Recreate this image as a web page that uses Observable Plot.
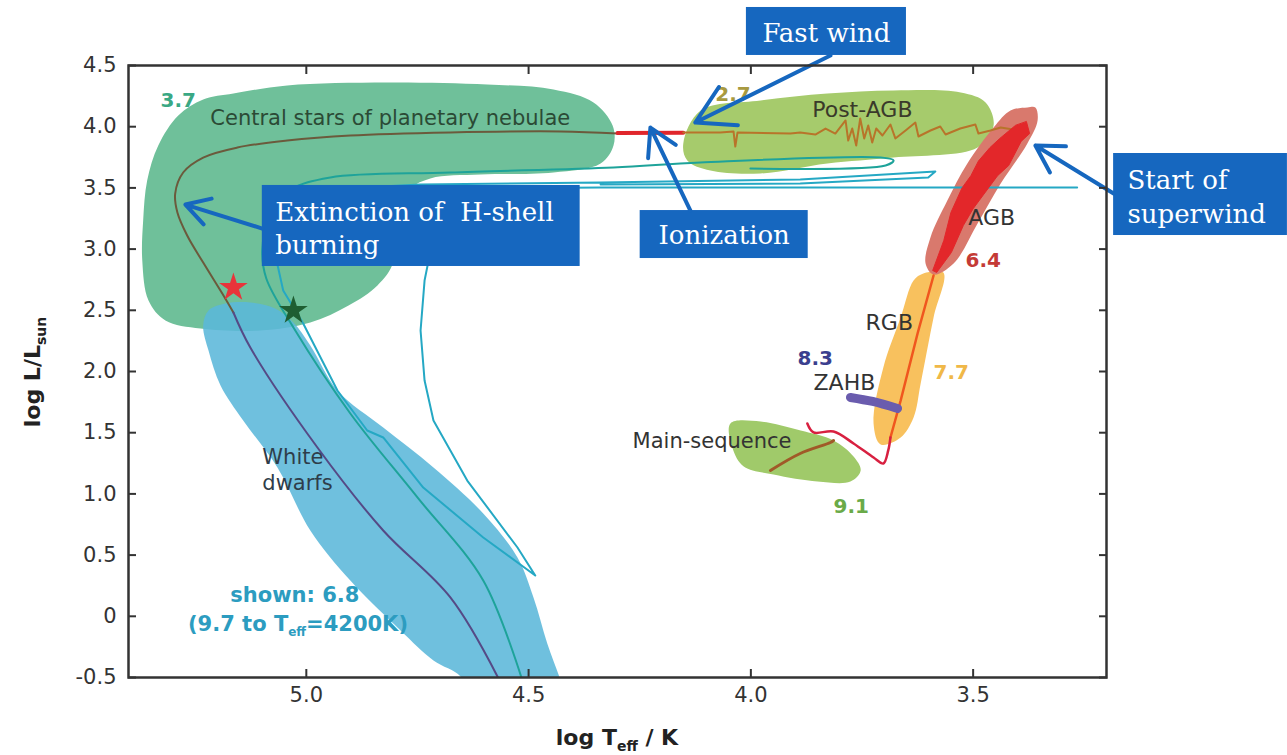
<!DOCTYPE html>
<html><head><meta charset="utf-8">
<script src="https://cdn.jsdelivr.net/npm/d3@7"></script>
<script src="https://cdn.jsdelivr.net/npm/@observablehq/plot@0.6"></script>
<style>
html,body{margin:0;padding:0;background:#fff;}
#chart{width:1287px;height:755px;}
</style></head><body><div id="chart"></div>
<script>
// ---- axes ----
const xTicks = [5.0, 4.5, 4.0, 3.5];
const yTicks = [-0.5, 0, 0.5, 1.0, 1.5, 2.0, 2.5, 3.0, 3.5, 4.0, 4.5];
const xDomain = [5.4, 3.2];
const yDomain = [-0.5, 4.5];

// ---- regions [log Teff, log L] ----
const cspnRegion = [[5.164,4.271],[5.043,4.337],[4.818,4.361],[4.593,4.345],[4.444,4.304],[4.354,4.198],[4.311,4.010],[4.309,3.846],[4.338,3.699],[4.444,3.626],[4.608,3.609],[4.721,3.577],[4.777,3.462],[4.811,3.152],[4.805,2.890],[4.840,2.703],[4.905,2.539],[4.991,2.400],[5.103,2.335],[5.238,2.351],[5.317,2.417],[5.355,2.580],[5.369,2.907],[5.367,3.234],[5.358,3.560],[5.333,3.846],[5.288,4.091],[5.232,4.222]];
const wdRegion = [[5.232,2.376],[5.220,2.498],[5.182,2.555],[5.126,2.564],[5.070,2.515],[5.029,2.400],[4.991,2.212],[4.930,1.845],[4.827,1.542],[4.714,1.216],[4.602,0.840],[4.525,0.480],[4.489,0.154],[4.458,-0.222],[4.428,-0.525],[4.415,-0.69],[4.631,-0.69],[4.653,-0.492],[4.714,-0.361],[4.788,-0.116],[4.901,0.292],[4.991,0.701],[5.065,1.216],[5.142,1.600],[5.193,1.886],[5.220,2.171]];
const postAgbRegion = [[4.152,3.863],[4.113,4.132],[3.978,4.214],[3.828,4.271],[3.679,4.296],[3.528,4.279],[3.472,4.198],[3.454,4.010],[3.490,3.830],[3.679,3.748],[3.828,3.699],[3.978,3.618],[4.091,3.642],[4.143,3.724]];
const agbRegion = [[3.378,4.157],[3.416,4.132],[3.454,3.993],[3.513,3.699],[3.558,3.397],[3.596,3.095],[3.607,2.882],[3.589,2.792],[3.544,2.882],[3.490,3.209],[3.438,3.536],[3.378,3.863],[3.355,4.051],[3.360,4.157]];
const agbCore = [[3.380,4.040],[3.373,3.944],[3.392,3.880],[3.420,3.683],[3.445,3.600],[3.478,3.438],[3.500,3.330],[3.522,3.193],[3.549,2.972],[3.582,2.809],[3.591,2.825],[3.566,3.070],[3.550,3.299],[3.525,3.500],[3.505,3.600],[3.488,3.720],[3.462,3.830],[3.440,3.904],[3.405,4.010]];
const rgbRegion = [[3.612,2.801],[3.567,2.809],[3.589,2.441],[3.618,1.902],[3.634,1.624],[3.663,1.461],[3.708,1.404],[3.724,1.575],[3.702,2.033],[3.663,2.441],[3.634,2.743]];
const msRegion = [[4.046,1.575],[3.978,1.591],[3.888,1.518],[3.814,1.436],[3.769,1.305],[3.753,1.191],[3.776,1.101],[3.850,1.101],[3.949,1.158],[4.016,1.224],[4.041,1.371]];

// ---- tracks ----
const cspnTrack = [[4.300,3.944],[4.428,3.961],[4.676,3.953],[4.901,3.928],[5.043,3.887],[5.155,3.830],[5.232,3.748],[5.277,3.626],[5.295,3.454],[5.290,3.299],[5.268,3.111],[5.232,2.890],[5.189,2.637],[5.164,2.482]];
const wdTrack = [[5.164,2.482],[5.126,2.196],[4.975,1.379],[4.827,0.701],[4.676,0.154],[4.570,-0.492],[4.563,-0.55]];
const ionTrack = [[4.300,3.948],[4.152,3.950]];
const postAgbTrack = [[4.152,3.953],[4.069,3.953],[4.039,3.961],[4.035,3.838],[4.030,3.953],[3.911,3.944],[3.889,3.953],[3.855,3.936],[3.832,3.985],[3.810,3.944],[3.787,4.051],[3.781,3.887],[3.772,3.985],[3.763,3.846],[3.754,4.067],[3.745,3.904],[3.736,4.010],[3.727,3.871],[3.718,3.985],[3.704,3.928],[3.686,4.018],[3.675,3.904],[3.652,3.969],[3.630,4.034],[3.623,3.920],[3.596,3.969],[3.574,4.002],[3.562,3.936],[3.529,3.985],[3.495,4.018],[3.488,3.944],[3.461,3.969],[3.438,3.993],[3.394,3.969]];
const tealTrackA = [[4.001,3.658],[3.697,3.683],[3.679,3.724],[3.708,3.748],[4.114,3.707],[4.309,3.667],[4.676,3.626],[4.946,3.585],[5.036,3.479],[5.085,3.234],[5.099,2.989],[5.090,2.760],[5.029,2.359],[4.901,1.657],[4.750,0.971],[4.602,0.292],[4.514,-0.525]];
const tealTrackB = [[3.266,3.503],[3.889,3.503],[4.338,3.503],[4.665,3.495],[4.699,3.397],[4.716,3.070],[4.734,2.743],[4.743,2.335],[4.734,1.926],[4.714,1.600],[4.638,1.109],[4.525,0.562],[4.485,0.333],[4.602,0.644],[4.737,1.052],[4.827,1.461],[4.863,1.518],[4.930,1.845],[5.007,2.392],[5.052,2.662],[5.072,2.989],[5.054,3.315],[5.002,3.479],[4.743,3.528],[4.338,3.544],[3.889,3.569],[3.585,3.634],[3.601,3.585],[3.889,3.536],[4.338,3.528]];
const preMsTrack = [[3.873,1.575],[3.859,1.502],[3.814,1.510],[3.769,1.412],[3.724,1.297],[3.702,1.248],[3.691,1.355],[3.686,1.461]];
const rgbTrack = [[3.686,1.461],[3.663,1.763],[3.625,2.310],[3.589,2.784]];
const msTrack = [[3.956,1.191],[3.889,1.330],[3.821,1.420],[3.814,1.436]];
const zahbTrack = [[3.776,1.788],[3.726,1.755],[3.670,1.698]];

// ---- stars ----
const starT = [5.164, 5.029];
const starL = [2.686, 2.498];
const starColor = ["#e8343a", "#1f5e32"];

// ---- labels ----
const labelText = ["3.7","Central stars of planetary nebulae","2.7","Post-AGB","AGB","6.4","RGB","8.3","ZAHB","7.7","Main-sequence","9.1","White","dwarfs","shown: 6.8"];
const labelT = [5.328,5.216,4.080,3.862,3.511,3.517,3.742,3.895,3.859,3.589,4.266,3.814,5.099,5.099,5.171];
const labelL = [4.214,4.067,4.263,4.140,3.258,2.907,2.400,2.106,1.910,1.992,1.428,0.897,1.297,1.085,0.170];
const labelColor = ["#3aa884","#2b4a35","#a89a40","#3a3a2a","#333","#c43a36","#333","#3b3f8e","#333","#f0b848","#333","#6aaa48","#2e3d4a","#2e3d4a","#2c9cc0"];
const labelBold = [true,false,true,false,false,true,false,true,false,true,false,true,false,false,true];
const labelSize = [20,21,20,22,22,20,22,20,22,20,21,20,21,21,21];

// ---- annotations ----
const noteBoxT1 = [4.010, 5.099, 4.249, 3.184];
const noteBoxT2 = [3.650, 4.384, 3.871, 2.793];
const noteBoxL1 = [4.974, 3.520, 3.315, 3.781];
const noteBoxL2 = [4.582, 2.858, 2.923, 3.111];
const noteText = ["Fast wind", "Extinction of\u00a0 H-shell", "burning", "Ionization", "Start of", "superwind"];
const noteT = [3.830, 5.070, 5.070, 4.060, 3.153, 3.153];
const noteL = [4.756, 3.299, 3.029, 3.111, 3.560, 3.283];
const noteAnchor = ["middle","start","start","middle","start","start"];
const arrowT1 = [3.821, 5.099, 4.136, 3.184];
const arrowL1 = [4.582, 3.168, 3.315, 3.454];
const arrowT2 = [4.125, 5.272, 4.226, 3.360];
const arrowL2 = [4.034, 3.364, 3.993, 3.846];

const BLUE = "#1667bf";
const X = d => d[0], Y = d => d[1];
const blob = (data, fill, extra = {}) => Plot.line(data, {x: X, y: Y, curve: "catmull-rom-closed", fill, stroke: "none", ...extra});
const path = (data, stroke, strokeWidth, curve = "catmull-rom", extra = {}) =>
  Plot.line(data, {x: X, y: Y, stroke, strokeWidth, curve, strokeLinejoin: "round", strokeLinecap: "round", ...extra});

const labels = labelText.map((t, i) => ({t, x: labelT[i], y: labelL[i]}));
const boxes = noteBoxT1.map((v, i) => ({x1: v, x2: noteBoxT2[i], y1: noteBoxL1[i], y2: noteBoxL2[i]}));
const notes = noteText.map((t, i) => ({t, x: noteT[i], y: noteL[i], a: noteAnchor[i]}));
const arrows = arrowT1.map((v, i) => ({x1: v, y1: arrowL1[i], x2: arrowT2[i], y2: arrowL2[i]}));
const stars = starT.map((v, i) => ({x: v, y: starL[i], c: starColor[i]}));

const plot = Plot.plot({
  width: 1287, height: 755,
  marginLeft: 128, marginRight: 181, marginTop: 65, marginBottom: 78,
  x: {domain: xDomain},
  y: {domain: yDomain},
  style: {fontFamily: "DejaVu Sans", color: "#333", background: "white", overflow: "visible"},
  marks: [
    blob(cspnRegion, "#6fc09a"),
    blob(wdRegion, "#5bb7da", {fillOpacity: 0.88, clip: true}),
    blob(postAgbRegion, "#a6cb6c"),
    blob(rgbRegion, "#f8c15e"),
    blob(agbRegion, "#d9796d"),
    blob(msRegion, "#a0ca6a"),
    path(tealTrackB, "#25a8c4", 2, "linear", {clip: true}),
    path(tealTrackA, "#1ea39a", 2, "catmull-rom", {clip: true}),
    path(cspnTrack, "#6b5a3c", 2),
    path(wdTrack, "#554a86", 2, "catmull-rom", {clip: true}),
    path(ionTrack, "#e0262c", 4, "linear"),
    path(postAgbTrack, "#b8742a", 2, "linear"),
    Plot.line(agbCore, {x: X, y: Y, fill: "#e3272a", stroke: "#e3272a", strokeWidth: 1, curve: "linear-closed"}),
    path(rgbTrack, "#f0561e", 2.5, "linear"),
    path(preMsTrack, "#d82040", 2.5, "catmull-rom"),
    path(msTrack, "#a05a28", 3, "catmull-rom"),
    path(zahbTrack, "#6a5cae", 9, "catmull-rom"),
    Plot.dot(stars, {x: "x", y: "y", symbol: "star", r: 9, fill: d => d.c, stroke: "none"}),
    ...labels.map((d, i) => Plot.text([d], {x: "x", y: "y", text: "t", textAnchor: "start",
      fill: labelColor[i], fontWeight: labelBold[i] ? "bold" : "normal", fontSize: labelSize[i], fontFamily: "DejaVu Sans"})),
    Plot.rect(boxes, {x1: "x1", x2: "x2", y1: "y1", y2: "y2", fill: BLUE}),
    ...notes.map(d => Plot.text([d], {x: "x", y: "y", text: "t", textAnchor: d.a, fill: "white", fontSize: 26, fontFamily: "DejaVu Serif"})),
    Plot.arrow(arrows, {x1: "x1", y1: "y1", x2: "x2", y2: "y2", stroke: BLUE, strokeWidth: 4, headLength: 16, headAngle: 60}),
    Plot.frame({stroke: "#333", strokeWidth: 2.5}),
    Plot.axisX({ticks: xTicks, anchor: "bottom", tickSize: -8, tickPadding: 18, tickFormat: d => d.toFixed(1), fontSize: 21, label: null, strokeWidth: 2}),
    Plot.axisX({ticks: xTicks, anchor: "top", tickSize: -8, tickFormat: () => "", label: null, strokeWidth: 2}),
    Plot.axisY({ticks: yTicks, anchor: "left", tickSize: -8, tickPadding: 20, tickFormat: d => d === 0 ? "0" : d.toFixed(1), fontSize: 21, label: null, strokeWidth: 2}),
    Plot.axisY({ticks: yTicks, anchor: "right", tickSize: -8, tickFormat: () => "", label: null, strokeWidth: 2})
  ]
});
document.getElementById("chart").append(plot);

const svg = d3.select(plot);
const xs = plot.scale("x"), ys = plot.scale("y");

// y-axis title
const yt = svg.append("text")
  .attr("transform", "translate(40,372) rotate(-90)")
  .attr("text-anchor", "middle").attr("font-family", "DejaVu Sans").attr("font-weight", "bold")
  .attr("font-size", 22).attr("fill", "#222");
yt.append("tspan").text("log L/L");
yt.append("tspan").attr("font-size", 14).attr("dy", 6).text("sun");

// x-axis title
const xt = svg.append("text")
  .attr("x", 617).attr("y", 745)
  .attr("text-anchor", "middle").attr("font-family", "DejaVu Sans").attr("font-weight", "bold")
  .attr("font-size", 22).attr("fill", "#222");
xt.append("tspan").text("log T");
xt.append("tspan").attr("font-size", 14).attr("dy", 6).text("eff");
xt.append("tspan").attr("dy", -6).text(" / K");

// teal sub-caption with subscript
const sub = svg.append("text")
  .attr("x", xs.apply(5.265)).attr("y", ys.apply(-0.067)).attr("dy", "0.35em")
  .attr("text-anchor", "start")
  .attr("font-family", "DejaVu Sans").attr("font-weight", "bold").attr("font-size", 21).attr("fill", "#2c9cc0");
sub.append("tspan").text("(9.7 to T");
sub.append("tspan").attr("font-size", 12).attr("dy", 5).text("eff");
sub.append("tspan").attr("dy", -5).text("=4200K)");
</script>
</body></html>
